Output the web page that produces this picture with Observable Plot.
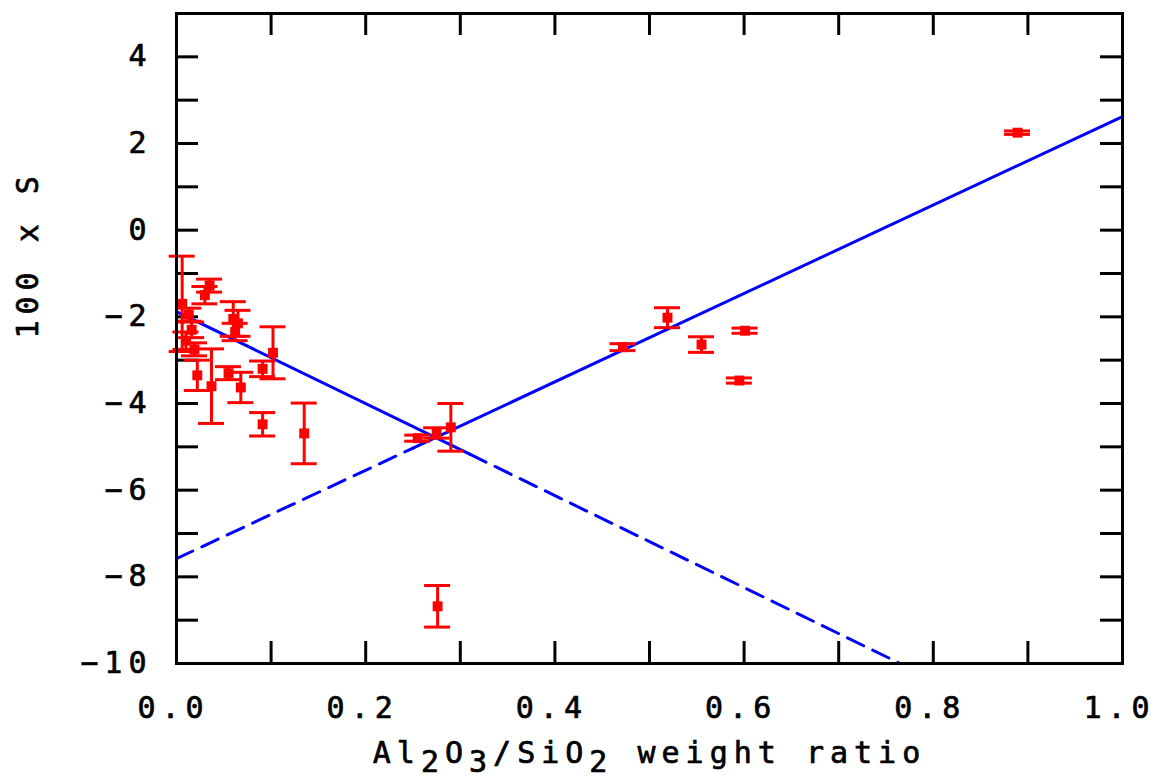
<!DOCTYPE html>
<html>
<head>
<meta charset="utf-8">
<script src="https://cdn.jsdelivr.net/npm/d3@7"></script>
<script src="https://cdn.jsdelivr.net/npm/@observablehq/plot@0.6"></script>
<style>
  html, body { margin: 0; padding: 0; background: #fff; }
  #chart svg { display: block; }
</style>
</head>
<body>
<div id="chart"></div>
<script>
// ---- data ----
const ratio = [0.006, 0.010, 0.013, 0.016, 0.019, 0.022, 0.030, 0.035, 0.037, 0.055,
               0.060, 0.065, 0.062, 0.068, 0.091, 0.091, 0.102, 0.135, 0.255, 0.275,
               0.290, 0.276, 0.472, 0.519, 0.555, 0.601, 0.595, 0.889];
const sValue = [-1.70, -2.55, -1.95, -2.30, -2.75, -3.35, -1.50, -1.28, -3.60, -3.30,
                -2.05, -2.15, -2.35, -3.63, -3.20, -4.48, -2.83, -4.69, -4.80, -4.68,
                -4.55, -8.68, -2.70, -2.02, -2.64, -2.32, -3.47, 2.25];
const sError = [1.10, 0.20, 0.15, 0.18, 0.15, 0.35, 0.20, 0.15, 0.86, 0.15,
                0.40, 0.30, 0.20, 0.35, 0.18, 0.27, 0.60, 0.70, 0.07, 0.12,
                0.55, 0.48, 0.08, 0.23, 0.18, 0.06, 0.06, 0.04];

// fitted lines (endpoints)
const line1Solid = [[0, -1.88], [0.31, -5.17]];
const line1Dashed = [[0.31, -5.17], [0.765, -10.0]];
const line2Dashed = [[0, -7.58], [0.25, -5.03]];
const line2Solid = [[0.25, -5.03], [1.0, 2.62]];

const xTicks = [0, 0.1, 0.2, 0.3, 0.4, 0.5, 0.6, 0.7, 0.8, 0.9, 1.0];
const xTickLabels = ["0.0", "0.2", "0.4", "0.6", "0.8", "1.0"];
const xLabelValues = [0, 0.2, 0.4, 0.6, 0.8, 1.0];
const yTicks = [-9, -8, -7, -6, -5, -4, -3, -2, -1, 0, 1, 2, 3, 4];
const yLabelValues = [-10, -8, -6, -4, -2, 0, 2, 4];
const yTickLabels = ["\u221210", "\u22128", "\u22126", "\u22124", "\u22122", "0", "2", "4"];
const yTitle = "100 x S";
const xTitleParts = ["Al", "2", "O", "3", "/SiO", "2", " weight ratio"];
const xTitleSub = [false, true, false, true, false, true, false];

// ---- layout ----
const W = 1155, H = 783;
const mL = 176, mR = 33, mT = 13, mB = 120;
const xDom = [0, 1], yDom = [-10, 5];
const pxPerX = (W - mL - mR) / (xDom[1] - xDom[0]);
const pxPerY = (H - mT - mB) / (yDom[1] - yDom[0]);
const tickPx = 22, capPx = 13;
const tX = tickPx / pxPerX, tY = tickPx / pxPerY, capX = capPx / pxPerX;

const pts = ratio.map((x, i) => ({x, y: sValue[i], e: sError[i]}));
const font = "'DejaVu Sans Mono', monospace";
const txt = {fontSize: 30, fontWeight: "normal", fill: "black", stroke: "black", strokeWidth: 0.7, lineAnchor: "middle"};

const plot = Plot.plot({
  width: W, height: H,
  marginLeft: mL, marginRight: mR, marginTop: mT, marginBottom: mB,
  x: {domain: xDom, axis: null},
  y: {domain: yDom, axis: null},
  style: {fontFamily: font, letterSpacing: "6px", background: "#fff"},
  marks: [
    // inward ticks on all four sides
    Plot.ruleX(xTicks, {x: d => d, y1: yDom[0], y2: yDom[0] + tY, stroke: "black", strokeWidth: 3}),
    Plot.ruleX(xTicks, {x: d => d, y1: yDom[1], y2: yDom[1] - tY, stroke: "black", strokeWidth: 3}),
    Plot.ruleY(yTicks, {y: d => d, x1: xDom[0], x2: xDom[0] + tX, stroke: "black", strokeWidth: 3}),
    Plot.ruleY(yTicks, {y: d => d, x1: xDom[1], x2: xDom[1] - tX, stroke: "black", strokeWidth: 3}),
    // fitted lines
    Plot.line(line1Solid, {x: d => d[0], y: d => d[1], stroke: "#0000ff", strokeWidth: 3}),
    Plot.line(line1Dashed, {x: d => d[0], y: d => d[1], stroke: "#0000ff", strokeWidth: 3, strokeDasharray: "18,10"}),
    Plot.line(line2Dashed, {x: d => d[0], y: d => d[1], stroke: "#0000ff", strokeWidth: 3, strokeDasharray: "18,10"}),
    Plot.line(line2Solid, {x: d => d[0], y: d => d[1], stroke: "#0000ff", strokeWidth: 3}),
    // error bars
    Plot.ruleX(pts, {x: "x", y1: d => d.y - d.e, y2: d => d.y + d.e, stroke: "#ff0000", strokeWidth: 3}),
    Plot.ruleY(pts, {y: d => d.y + d.e, x1: d => d.x - capX, x2: d => d.x + capX, stroke: "#ff0000", strokeWidth: 3}),
    Plot.ruleY(pts, {y: d => d.y - d.e, x1: d => d.x - capX, x2: d => d.x + capX, stroke: "#ff0000", strokeWidth: 3}),
    Plot.dot(pts, {x: "x", y: "y", symbol: "square", r: 5.6, fill: "#ff0000", stroke: "none"}),
    Plot.frame({stroke: "black", strokeWidth: 3}),
    // tick labels
    Plot.text(xLabelValues, {x: d => d, frameAnchor: "bottom", dy: 45, dx: -3, text: (d, i) => xTickLabels[i], ...txt}),
    Plot.text(yLabelValues, {y: d => d, frameAnchor: "left", dx: -24, text: (d, i) => yTickLabels[i],
      textAnchor: "end", ...txt}),
    // axis titles
    Plot.text([yTitle], {frameAnchor: "left", dx: -148, rotate: -90, text: d => d, ...txt}),
    Plot.text([xTitleParts.join("")], {frameAnchor: "bottom", dy: 90, text: d => d, ...txt})
  ]
});

// subscripts in the x-axis title
const full = xTitleParts.join("");
d3.select(plot).selectAll("text").each(function () {
  if (this.textContent === full) {
    const t = d3.select(this);
    t.text(null);
    let prev = 0;
    xTitleParts.forEach((s, i) => {
      const off = xTitleSub[i] ? 9 : 0;
      t.append("tspan").attr("dy", off - prev).text(s);
      prev = off;
    });
  }
});

document.getElementById("chart").appendChild(plot);
</script>
</body>
</html>
